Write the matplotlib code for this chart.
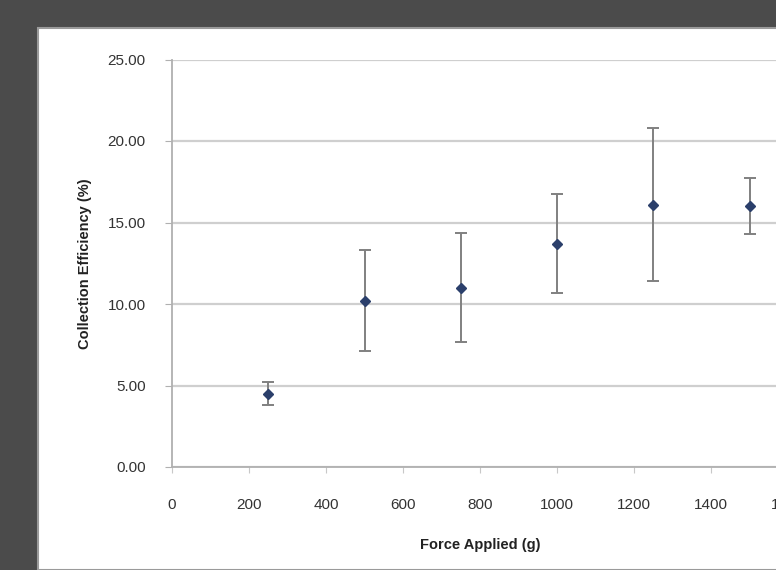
import matplotlib
matplotlib.use("Agg")
import matplotlib.pyplot as plt
from matplotlib.patches import Rectangle

force = [250, 500, 750, 1000, 1250, 1500]
efficiency = [4.5, 10.2, 11.0, 13.7, 16.1, 16.0]
err = [0.7, 3.1, 3.35, 3.05, 4.7, 1.7]
yticks = [0, 5, 10, 15, 20, 25]
xticks = [0, 200, 400, 600, 800, 1000, 1200, 1400, 1600]

plt.rcParams['font.family'] = ['Liberation Sans', 'DejaVu Sans']

W, H = 776, 570
fig = plt.figure(figsize=(W / 100, H / 100), dpi=100)
fig.patch.set_facecolor('#4b4b4b')
fig.patches.append(Rectangle((38 / W, 0), 1, (H - 28) / H, transform=fig.transFigure,
                             facecolor='white', edgecolor='#9a9a9a', lw=1.5, zorder=-10))

left, right = 172, 788
bottom, top = 467, 59.5
ax = fig.add_axes([left / W, (H - bottom) / H, (right - left) / W, (bottom - top) / H])
ax.set_facecolor('none')

ax.errorbar(force, efficiency, yerr=err, fmt='D', color='#2b3f6b', markersize=5,
            ecolor='#808080', elinewidth=1.4, capsize=4, capthick=1.4, zorder=3)

ax.set_xlim(0, 1600)
ax.set_ylim(0, 25)
ax.set_yticks(yticks)
ax.set_yticklabels([f"{v:.2f}" for v in yticks])
ax.set_xticks(xticks)
ax.set_xticklabels([str(v) for v in xticks])
ax.yaxis.grid(True, color='#cfcfcf', lw=1.6)
ax.set_axisbelow(True)
for s in ['top', 'right']:
    ax.spines[s].set_visible(False)
for s in ['left', 'bottom']:
    ax.spines[s].set_color('#b0b0b0')
    ax.spines[s].set_linewidth(1.3)
ax.tick_params(axis='y', length=5, color='#b0b0b0', pad=14, labelsize=11, labelcolor='#333333')
ax.tick_params(axis='x', length=4, color='#c8c8c8', pad=18, labelsize=11, labelcolor='#333333')

ax.set_xlabel('Force Applied (g)', fontsize=10.5, fontweight='bold', color='#222222', labelpad=19)
ax.set_ylabel('Collection Efficiency (%)', fontsize=10.5, fontweight='bold', color='#222222')
ax.yaxis.set_label_coords((92 - left) / (right - left), 0.5)

fig.savefig('out.png', dpi=100)
